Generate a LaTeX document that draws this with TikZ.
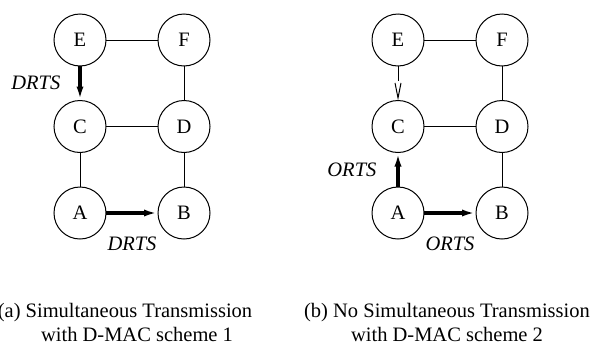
\documentclass[tikz,border=0pt]{standalone}
\usepackage{fontspec}
\setmainfont{Liberation Serif}
\usetikzlibrary{arrows.meta, positioning}

\begin{document}
\begin{tikzpicture}[x=0.5pt, y=-0.5pt, node distance = 0cm,
        station/.style={circle, draw, line width=0.5pt, minimum size=26pt, inner sep=0pt, outer sep=0pt, font=\fontsize{10.25}{12}\selectfont},
        link/.style={draw, line width=0.5pt},
        send/.style={draw, line width=1.6pt, -{Latex[length=7pt, width=3.5pt]}},
        heard/.style={draw, line width=0.5pt, dash pattern=on 7.5pt off 20pt, -{Straight Barb[length=7.5pt, width=3pt]}},
        msg/.style={font=\fontsize{10.25}{12}\selectfont\itshape, inner sep=0pt},
        caption/.style={font=\fontsize{10.25}{12}\selectfont, inner sep=0pt, anchor=base}
    ]
        \useasboundingbox (0,0) rectangle (594,343);
        % Scheme 1 stations
        \node[station] (e_one) at (80,40) {E};
        \node[station, right=26pt of e_one] (f_one) {F};
        \node[station, below=17.25pt of e_one] (c_one) {C};
        \node[station, right=26pt of c_one] (d_one) {D};
        \node[station, below=17.25pt of c_one] (a_one) {A};
        \node[station, right=26pt of a_one] (b_one) {B};
        % Scheme 1 links
        \path[link] (e_one) -- (f_one);
        \path[link] (f_one) -- (d_one);
        \path[link] (c_one) -- (d_one);
        \path[link] (d_one) -- (b_one);
        \path[link] (c_one) -- (a_one);
        \path[send] (e_one) -- node[msg, left=9pt, name=drts_ec] {DRTS} (c_one);
        \path[send] (a_one) -- node[msg, below=11pt, name=drts_ab] {DRTS} (b_one);
        % Scheme 2 stations
        \node[station] (e_two) at (398,40) {E};
        \node[station, right=26pt of e_two] (f_two) {F};
        \node[station, below=17.25pt of e_two] (c_two) {C};
        \node[station, right=26pt of c_two] (d_two) {D};
        \node[station, below=17.25pt of c_two] (a_two) {A};
        \node[station, right=26pt of a_two] (b_two) {B};
        % Scheme 2 links
        \path[link] (e_two) -- (f_two);
        \path[link] (f_two) -- (d_two);
        \path[link] (c_two) -- (d_two);
        \path[link] (d_two) -- (b_two);
        \path[heard] (e_two) -- (c_two);
        \path[send] (a_two) -- node[msg, left=10pt, name=orts_ac] {ORTS} (c_two);
        \path[send] (a_two) -- node[msg, below=11pt, name=orts_ab] {ORTS} (b_two);
        % Captions
        \node[caption] (cap_one) at (125,317) {(a) Simultaneous Transmission};
        \node[caption] (cap_one_b) at (137,341) {with D-MAC scheme 1};
        \node[caption] (cap_two) at (447,317) {(b) No Simultaneous Transmission};
        \node[caption] (cap_two_b) at (447,341) {with D-MAC scheme 2};

    \end{tikzpicture}
\end{document}
